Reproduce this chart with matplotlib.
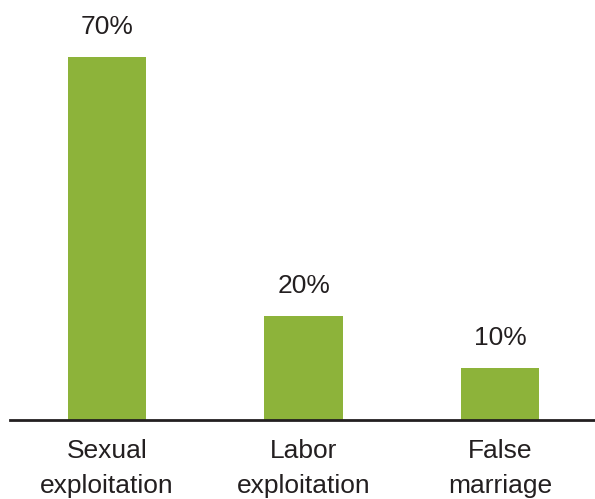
import matplotlib.pyplot as plt

categories = ['Sexual\nexploitation', 'Labor\nexploitation', 'False\nmarriage']
values = [70, 20, 10]
labels = ['70%', '20%', '10%']

plt.rcParams['font.family'] = ['Liberation Sans', 'DejaVu Sans']

fig = plt.figure(figsize=(5.95, 4.99), dpi=100)
ax = fig.add_axes([10 / 595, 79 / 499, 585 / 595, 420 / 499])

x = range(len(values))
bars = ax.bar(x, values, width=0.40, color='#8db33a')
for b, lab in zip(bars, labels):
    ax.annotate(lab, (b.get_x() + b.get_width() / 2, b.get_height()),
                xytext=(0, 13), textcoords='offset points',
                ha='center', va='bottom', fontsize=19, color='#231f20')

ax.set_xlim(-0.494, 2.483)
ax.set_ylim(0, 81)
ax.set_xticks(list(x))
ax.set_xticklabels(categories, fontsize=19, color='#231f20', linespacing=1.55)
ax.tick_params(axis='x', length=0, pad=14)
ax.set_yticks([])
for s in ['top', 'right', 'left']:
    ax.spines[s].set_visible(False)
ax.spines['bottom'].set_linewidth(2)
ax.spines['bottom'].set_color('#231f20')

fig.savefig('out.png', dpi=100)
